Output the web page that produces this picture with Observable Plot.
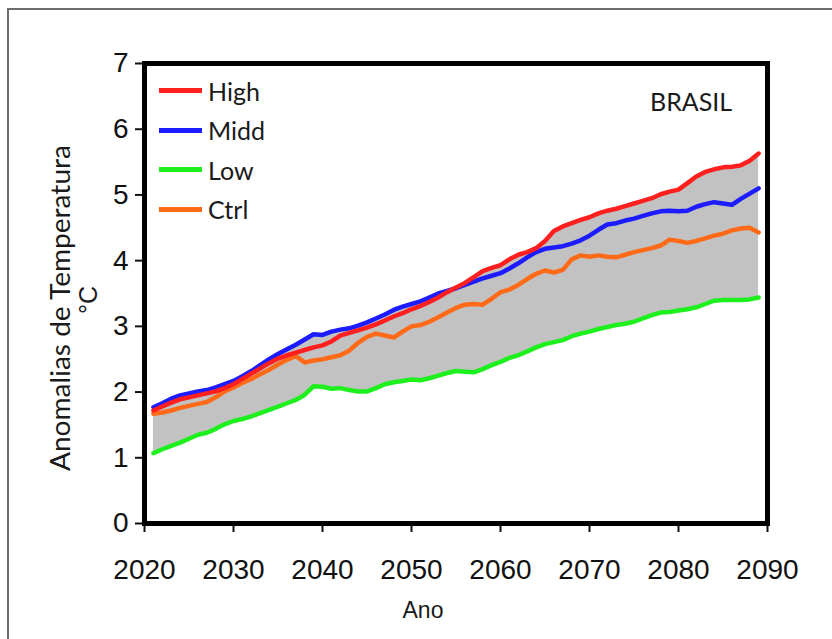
<!DOCTYPE html>
<html>
<head>
<meta charset="utf-8">
<script src="https://cdn.jsdelivr.net/npm/d3@7"></script>
<script src="https://cdn.jsdelivr.net/npm/@observablehq/plot@0.6"></script>
<style>
  html, body { margin: 0; padding: 0; background: #fff; }
  #wrap { position: relative; width: 832px; height: 639px; overflow: hidden; background: #fff; }
  #border { position: absolute; left: 7px; top: 8px; width: 840px; height: 660px; border: 2px solid #6b6b6b; box-sizing: border-box; }
  #chart { position: absolute; left: 0; top: 0; }
  .legend { position: absolute; left: 159px; top: 71px; font-family: Lato, "Open Sans", sans-serif; font-size: 25px; color: #1a1a1a; }
  .legend .item { display: flex; align-items: center; height: 39.5px; }
  .legend .sw { width: 43px; height: 5px; margin-right: 6px; }
  .region { position: absolute; left: 650px; top: 86px; font-family: Lato, "Open Sans", sans-serif; font-size: 25px; color: #1a1a1a; }
</style>
</head>
<body>
<div id="wrap">
  <div id="border"></div>
  <div id="chart"></div>
  <div class="legend" id="legend"></div>
  <div class="region">BRASIL</div>
</div>
<script>
// Annual temperature anomalies (°C) for Brazil, 2021–2089
const years = [
  2021,2022,2023,2024,2025,2026,2027,2028,2029,2030,
  2031,2032,2033,2034,2035,2036,2037,2038,2039,2040,
  2041,2042,2043,2044,2045,2046,2047,2048,2049,2050,
  2051,2052,2053,2054,2055,2056,2057,2058,2059,2060,
  2061,2062,2063,2064,2065,2066,2067,2068,2069,2070,
  2071,2072,2073,2074,2075,2076,2077,2078,2079,2080,
  2081,2082,2083,2084,2085,2086,2087,2088,2089
];

const high = [
  1.72,1.78,1.84,1.89,1.92,1.95,1.98,2.01,2.06,2.12,
  2.20,2.28,2.36,2.44,2.51,2.56,2.60,2.64,2.68,2.71,
  2.77,2.86,2.90,2.94,2.98,3.03,3.09,3.15,3.20,3.26,
  3.31,3.37,3.44,3.52,3.59,3.66,3.75,3.84,3.89,3.93,
  4.02,4.09,4.13,4.19,4.30,4.45,4.52,4.57,4.62,4.66,
  4.72,4.76,4.79,4.83,4.87,4.91,4.95,5.01,5.05,5.08,
  5.18,5.28,5.35,5.39,5.42,5.43,5.45,5.52,5.63
];

const midd = [
  1.77,1.83,1.90,1.95,1.98,2.01,2.03,2.07,2.12,2.17,
  2.24,2.32,2.41,2.50,2.58,2.65,2.72,2.80,2.88,2.87,
  2.92,2.95,2.97,3.01,3.06,3.12,3.18,3.25,3.30,3.34,
  3.38,3.44,3.50,3.54,3.58,3.63,3.68,3.73,3.77,3.81,
  3.88,3.96,4.05,4.13,4.18,4.20,4.22,4.26,4.31,4.38,
  4.47,4.55,4.57,4.61,4.64,4.68,4.72,4.75,4.76,4.75,
  4.76,4.82,4.86,4.89,4.87,4.85,4.94,5.02,5.10
];

const low = [
  1.07,1.13,1.18,1.23,1.29,1.35,1.38,1.44,1.51,1.56,
  1.59,1.63,1.68,1.73,1.78,1.83,1.88,1.96,2.09,2.08,
  2.05,2.06,2.03,2.01,2.01,2.06,2.12,2.15,2.17,2.19,
  2.18,2.21,2.25,2.29,2.32,2.31,2.30,2.35,2.41,2.46,
  2.52,2.56,2.62,2.68,2.73,2.76,2.79,2.85,2.89,2.92,
  2.96,2.99,3.02,3.04,3.07,3.12,3.17,3.21,3.22,3.24,
  3.26,3.29,3.34,3.39,3.40,3.40,3.40,3.41,3.44
];

const ctrl = [
  1.67,1.69,1.72,1.76,1.79,1.82,1.85,1.92,2.01,2.07,
  2.14,2.20,2.27,2.34,2.42,2.49,2.55,2.45,2.48,2.50,
  2.53,2.56,2.63,2.75,2.84,2.89,2.86,2.83,2.92,3.00,
  3.02,3.07,3.14,3.21,3.28,3.33,3.34,3.33,3.42,3.52,
  3.56,3.63,3.72,3.80,3.85,3.82,3.86,4.02,4.08,4.06,
  4.08,4.06,4.05,4.09,4.13,4.16,4.19,4.23,4.32,4.30,
  4.27,4.30,4.34,4.38,4.41,4.46,4.49,4.50,4.43
];

const seriesNames = ["High", "Midd", "Low", "Ctrl"];
const seriesColors = ["#ff1f1f", "#1c1cff", "#1ef01e", "#ff6a18"];
const seriesValues = [high, midd, low, ctrl];

const xTicks = [2020, 2030, 2040, 2050, 2060, 2070, 2080, 2090];
const yTicks = [0, 1, 2, 3, 4, 5, 6, 7];

// long table for the lines
const rows = [];
seriesNames.forEach((name, s) => {
  years.forEach((yr, i) => rows.push({ name, year: yr, value: seriesValues[s][i] }));
});

// envelope spanning all scenarios
const band = years.map((yr, i) => ({
  year: yr,
  lo: d3.min(seriesValues, v => v[i]),
  hi: d3.max(seriesValues, v => v[i])
}));

// drawing order: Low, Ctrl, Midd, High (High on top)
const drawOrder = ["Low", "Ctrl", "Midd", "High"];

const chart = Plot.plot({
  width: 832,
  height: 639,
  marginLeft: 144,
  marginRight: 65,
  marginTop: 63,
  marginBottom: 116,
  style: { background: "transparent", fontFamily: "'Liberation Sans', Arial, sans-serif" },
  x: { domain: [2020, 2090] },
  y: { domain: [0, 7] },
  color: { domain: seriesNames, range: seriesColors },
  marks: [
    Plot.areaY(band, { x: "year", y1: "lo", y2: "hi", fill: "#c2c2c2" }),
    ...drawOrder.map(n =>
      Plot.line(rows.filter(r => r.name === n), {
        x: "year", y: "value", stroke: "name", strokeWidth: 4.5,
        strokeLinejoin: "round", strokeLinecap: "round"
      })
    ),
    Plot.axisX({
      ticks: xTicks, tickFormat: d => String(d), tickSize: 9, tickPadding: 27,
      fontSize: 28, strokeWidth: 2, label: null, color: "#111"
    }),
    Plot.axisY({
      ticks: yTicks, tickFormat: d => String(d), tickSize: 9, tickPadding: 7,
      fontSize: 28, strokeWidth: 2, label: null, color: "#111"
    }),
    Plot.frame({ stroke: "#000", strokeWidth: 5 })
  ]
});
document.getElementById("chart").appendChild(chart);

// slightly condensed tick labels
d3.select(chart).selectAll("g[aria-label='x-axis tick label'] text, g[aria-label='y-axis tick label'] text")
  .attr("font-stretch", "condensed");

// axis titles
const svg = d3.select(chart);
svg.append("text")
  .attr("transform", "translate(70,308) rotate(-90)")
  .attr("text-anchor", "middle")
  .attr("font-family", "Lato, 'Open Sans', sans-serif")
  .attr("font-size", 26)
  .attr("textLength", 326)
  .attr("lengthAdjust", "spacingAndGlyphs")
  .attr("fill", "#1a1a1a")
  .text("Anomalias de Temperatura");
svg.append("text")
  .attr("transform", "translate(97,300) rotate(-90)")
  .attr("text-anchor", "middle")
  .attr("font-family", "'Liberation Sans', Arial, sans-serif")
  .attr("font-size", 25)
  .attr("fill", "#1a1a1a")
  .text("°C");
svg.append("text")
  .attr("x", 423)
  .attr("y", 618)
  .attr("text-anchor", "middle")
  .attr("font-family", "'Liberation Sans', Arial, sans-serif")
  .attr("font-size", 23)
  .attr("fill", "#1a1a1a")
  .text("Ano");

// legend
const legend = d3.select("#legend");
seriesNames.forEach((n, i) => {
  const item = legend.append("div").attr("class", "item");
  item.append("div").attr("class", "sw").style("background", seriesColors[i]);
  item.append("span").text(n);
});
</script>
</body>
</html>
